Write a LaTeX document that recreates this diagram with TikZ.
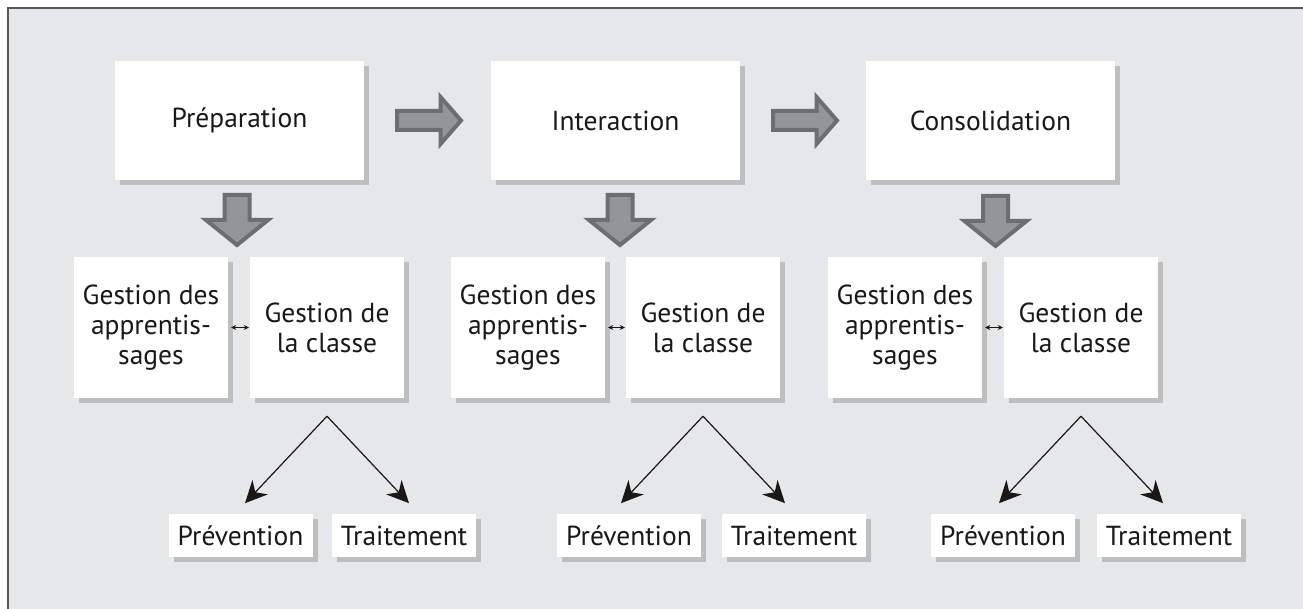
\documentclass[tikz,border=0pt]{standalone}
\usepackage{fontspec}
\setmainfont{PT Sans}
\usetikzlibrary{shadows,arrows.meta}
\definecolor{bgc}{HTML}{E6E7E8}
\definecolor{shadc}{HTML}{BCBEC0}
\definecolor{afill}{HTML}{939598}
\definecolor{aedge}{HTML}{6D6E71}
\definecolor{framec}{HTML}{58595B}
\definecolor{txt}{HTML}{1A1718}
\tikzset{
  whitebox/.style={fill=white, inner sep=0pt, align=center, text=txt,
    font=\fontsize{27.5}{30}\selectfont,
    drop shadow={opacity=1, fill=shadc, shadow xshift=5pt, shadow yshift=-5pt}},
  topbox/.style={whitebox, minimum width=249pt, minimum height=119pt},
  midbox/.style={whitebox, minimum width=154pt, minimum height=141pt},
  lowbox/.style={whitebox, minimum width=144pt, minimum height=43pt},
  blockarrow/.style={fill=afill, draw=aedge, line width=4pt, line join=miter},
  rarrow/.pic={\draw[blockarrow] (-32.5,-9.5) -- (11,-9.5) -- (11,-23.5) -- (31.5,0) -- (11,23.5) -- (11,9.5) -- (-32.5,9.5) -- cycle;},
  darrow/.pic={\draw[blockarrow] (-12.5,2) -- (12.5,2) -- (12.5,27) -- (31,27) -- (0,52) -- (-31,27) -- (-12.5,27) -- cycle;},
  vline/.style={draw=txt, line width=1.2pt, -{Stealth[length=22pt,width=21pt,inset=7pt]}},
  dbl/.style={draw=txt, line width=1pt, {Stealth[length=5pt,width=5pt]}-{Stealth[length=5pt,width=5pt]}},
}
\begin{document}
\begin{tikzpicture}[x=1pt,y=-1pt]
\useasboundingbox (0,0) rectangle (1303,609);
\fill[bgc] (8,8) rectangle (1303,609);
\draw[framec, line width=1.5pt] (8,609) -- (8,8) -- (1303,8);

% top row
\node[topbox] (prep)  at (239.5,120.5) {Préparation};
\node[topbox] (inter) at (615.5,120.5) {Interaction};
\node[topbox] (cons)  at (990.5,120.5) {Consolidation};

\pic at (429.5,120.5) {rarrow};
\pic at (805.5,120.5) {rarrow};

\pic at (237,193) {darrow};
\pic at (620,193) {darrow};
\pic at (995.5,194) {darrow};

% middle row
\node[midbox] (ga1) at (151,327.5) {Gestion des\\apprentis-\\sages};
\node[midbox] (gc1) at (327,327.5) {Gestion de\\la classe};
\node[midbox] (ga2) at (528,327.5) {Gestion des\\apprentis-\\sages};
\node[midbox] (gc2) at (703,327.5) {Gestion de\\la classe};
\node[midbox] (ga3) at (905,327.5) {Gestion des\\apprentis-\\sages};
\node[midbox] (gc3) at (1081,327.5) {Gestion de\\la classe};

\draw[dbl] ([xshift=3pt]ga1.east) -- ([xshift=-1pt]gc1.west);
\draw[dbl] ([xshift=3pt]ga2.east) -- ([xshift=-1pt]gc2.west);
\draw[dbl] ([xshift=3pt]ga3.east) -- ([xshift=-1pt]gc3.west);

% bottom row
\node[lowbox] (prev1)  at (240.5,535.5) {Prévention};
\node[lowbox] (trait1) at (404,535.5) {Traitement};
\node[lowbox] (prev2)  at (629,535.5) {Prévention};
\node[lowbox] (trait2) at (794,535.5) {Traitement};
\node[lowbox] (prev3)  at (1003,535.5) {Prévention};
\node[lowbox] (trait3) at (1169,535.5) {Traitement};

% V connectors
\foreach \g in {1,2,3}{
  \coordinate (apex\g) at ([yshift=-18pt]gc\g.south);
  \coordinate (tl\g) at ([xshift=-82pt,yshift=-87pt]apex\g);
  \coordinate (tr\g) at ([xshift=82pt,yshift=-87pt]apex\g);
  \draw[vline] (apex\g) -- (tl\g);
  \draw[vline] (apex\g) -- (tr\g);
}
\end{tikzpicture}
\end{document}
